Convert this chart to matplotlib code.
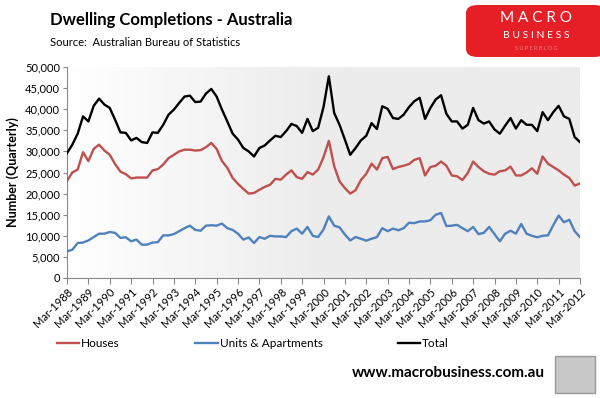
import numpy as np
import matplotlib
matplotlib.use("Agg")
import matplotlib.pyplot as plt
from matplotlib.patches import FancyBboxPatch, Rectangle

# quarterly, Mar-1988 .. Mar-2012
houses = [23000, 25000, 25700, 29800, 27700, 30600, 31600, 30200, 29200, 27000,
          25200, 24600, 23600, 23800, 23800, 23800, 25500, 25800, 26900, 28400,
          29200, 30000, 30400, 30400, 30200, 30300, 31000, 32000, 30600, 27700,
          26100, 23700, 22300, 21100, 20000, 20150, 20900, 21600, 22100, 23500,
          23300, 24500, 25500, 23900, 23500, 25100, 24500, 25700, 28600, 32500,
          26500, 22900, 21300, 20000, 20800, 23200, 24700, 27100, 25700, 28400,
          28700, 25800, 26300, 26600, 27000, 28000, 28400, 24300, 26300, 26600,
          27600, 26600, 24300, 24100, 23200, 24900, 27600, 26300, 25300, 24700,
          24500, 25300, 25500, 26400, 24300, 24300, 25000, 26000, 24700, 28800,
          27100, 26300, 25500, 24500, 23700, 21900, 22400]
units = [6300, 6700, 8300, 8400, 8900, 9700, 10500, 10500, 10900, 10700,
         9500, 9650, 8700, 9100, 7900, 7900, 8400, 8500, 10100, 10100,
         10400, 11100, 11800, 12400, 11400, 11200, 12400, 12500, 12400, 12900,
         11800, 11400, 10500, 9100, 9600, 8300, 9700, 9300, 10000, 9850,
         9850, 9700, 11100, 11700, 10500, 12100, 10000, 9700, 11500, 14600,
         12400, 12000, 10300, 8900, 9700, 9300, 8850, 9300, 9700, 11800,
         11100, 11700, 11300, 11800, 13100, 13000, 13400, 13400, 13700, 15000,
         15400, 12300, 12400, 12600, 11800, 11100, 12100, 10400, 10700, 12100,
         10400, 8700, 10500, 11200, 10500, 12800, 10500, 10000, 9650, 10000,
         10100, 12500, 14800, 13200, 13800, 11100, 9700]
total = [29600, 31600, 34200, 38300, 37100, 40800, 42500, 41100, 40300, 37500,
         34500, 34400, 32600, 33200, 32200, 32000, 34500, 34400, 36300, 38700,
         39900, 41500, 43000, 43200, 41700, 41800, 43700, 44800, 43000, 39900,
         37100, 34200, 32800, 30800, 30000, 28800, 30800, 31400, 32600, 33700,
         33400, 34800, 36500, 36000, 34400, 37700, 34800, 35600, 40500, 47800,
         39100, 36300, 32800, 29200, 30800, 32600, 33700, 36700, 35300, 40700,
         40100, 37900, 37700, 38700, 40500, 41900, 42700, 37700, 40300, 42300,
         43300, 38900, 37100, 37100, 35400, 36300, 40300, 37400, 36600, 37100,
         35200, 34200, 36100, 37900, 35400, 37400, 36300, 36300, 34800, 39300,
         37400, 39300, 40800, 38300, 37700, 33400, 32200]
years = list(range(1988, 2013))
tick_labels = [f"Mar-{y}" for y in years]

plt.rcParams["font.family"] = ["Lato", "DejaVu Sans"]

fig = plt.figure(figsize=(6, 3.98), dpi=100)
ax = fig.add_axes([67 / 600, 1 - 278 / 398, 513 / 600, 211 / 398])

# white -> light grey background like the Excel fill
grad = np.linspace(0, 1, 256).reshape(1, -1)
ax.imshow(grad, extent=[0, 1, 0, 1], transform=ax.transAxes, aspect="auto",
          cmap=matplotlib.colors.LinearSegmentedColormap.from_list("bg", ["#ffffff", "#ececec", "#ececec"]),
          zorder=0)

x = np.arange(len(total))
ax.plot(x, houses, color="#c0504d", lw=1.7, label="Houses", zorder=3)
ax.plot(x, units, color="#4f81bd", lw=1.7, label="Units & Apartments", zorder=3)
ax.plot(x, total, color="black", lw=1.7, label="Total", zorder=3)

ax.set_xlim(0, len(total) - 1)
ax.set_ylim(0, 50000)
ax.set_yticks(range(0, 50001, 5000))
ax.set_yticklabels([f"{v:,}" for v in range(0, 50001, 5000)], fontsize=8)
ax.set_xticks(range(0, len(total), 4))
ax.set_xticklabels(tick_labels, rotation=45, ha="right", rotation_mode="anchor", fontsize=8)
ax.tick_params(axis="x", length=4, color="#888888", pad=2)
ax.tick_params(axis="y", length=3, color="#888888", pad=2)
for s in ["top", "right"]:
    ax.spines[s].set_visible(False)
for s in ["left", "bottom"]:
    ax.spines[s].set_color("#888888")
ax.set_ylabel("Number (Quarterly)", fontsize=9, fontweight="bold", labelpad=4)

ax.legend(loc="upper left", bbox_to_anchor=(57 / 600, 1 - 338 / 398), bbox_transform=fig.transFigure,
          ncol=3, frameon=False, fontsize=8.5, handlelength=1.9, handletextpad=0.15,
          columnspacing=6.4, borderaxespad=0, borderpad=0)

fig.text(50 / 600, 1 - 20 / 398, "Dwelling Completions - Australia", fontsize=12,
         fontweight="bold", va="center")
fig.text(50 / 600, 1 - 42 / 398, "Source:  Australian Bureau of Statistics", fontsize=8, va="center")

# logo block
logo = FancyBboxPatch((466 / 600, 1 - 57 / 398), 140 / 600, 52 / 398,
                      boxstyle="round,pad=0,rounding_size=0.02", transform=fig.transFigure,
                      facecolor="#e61e25", edgecolor="none")
fig.patches.append(logo)
fig.text(536 / 600, 1 - 18 / 398, "M A C R O", color="white", fontsize=11, ha="center", va="center")
fig.text(536 / 600, 1 - 36 / 398, "B U S I N E S S", color="white", fontsize=7.5, ha="center", va="center")
fig.text(536 / 600, 1 - 48 / 398, "S U P E R B L O G", color="#f08080", fontsize=4, ha="center", va="center")

fig.text(545 / 600, 1 - 373 / 398, "www.macrobusiness.com.au", fontsize=11, fontweight="bold",
         ha="right", va="center")
fig.patches.append(Rectangle((555 / 600, 1 - 393 / 398), 40 / 600, 37 / 398, transform=fig.transFigure,
                             facecolor="#c8c8c8", edgecolor="#999999", lw=1))

fig.savefig("out.png", dpi=100)
